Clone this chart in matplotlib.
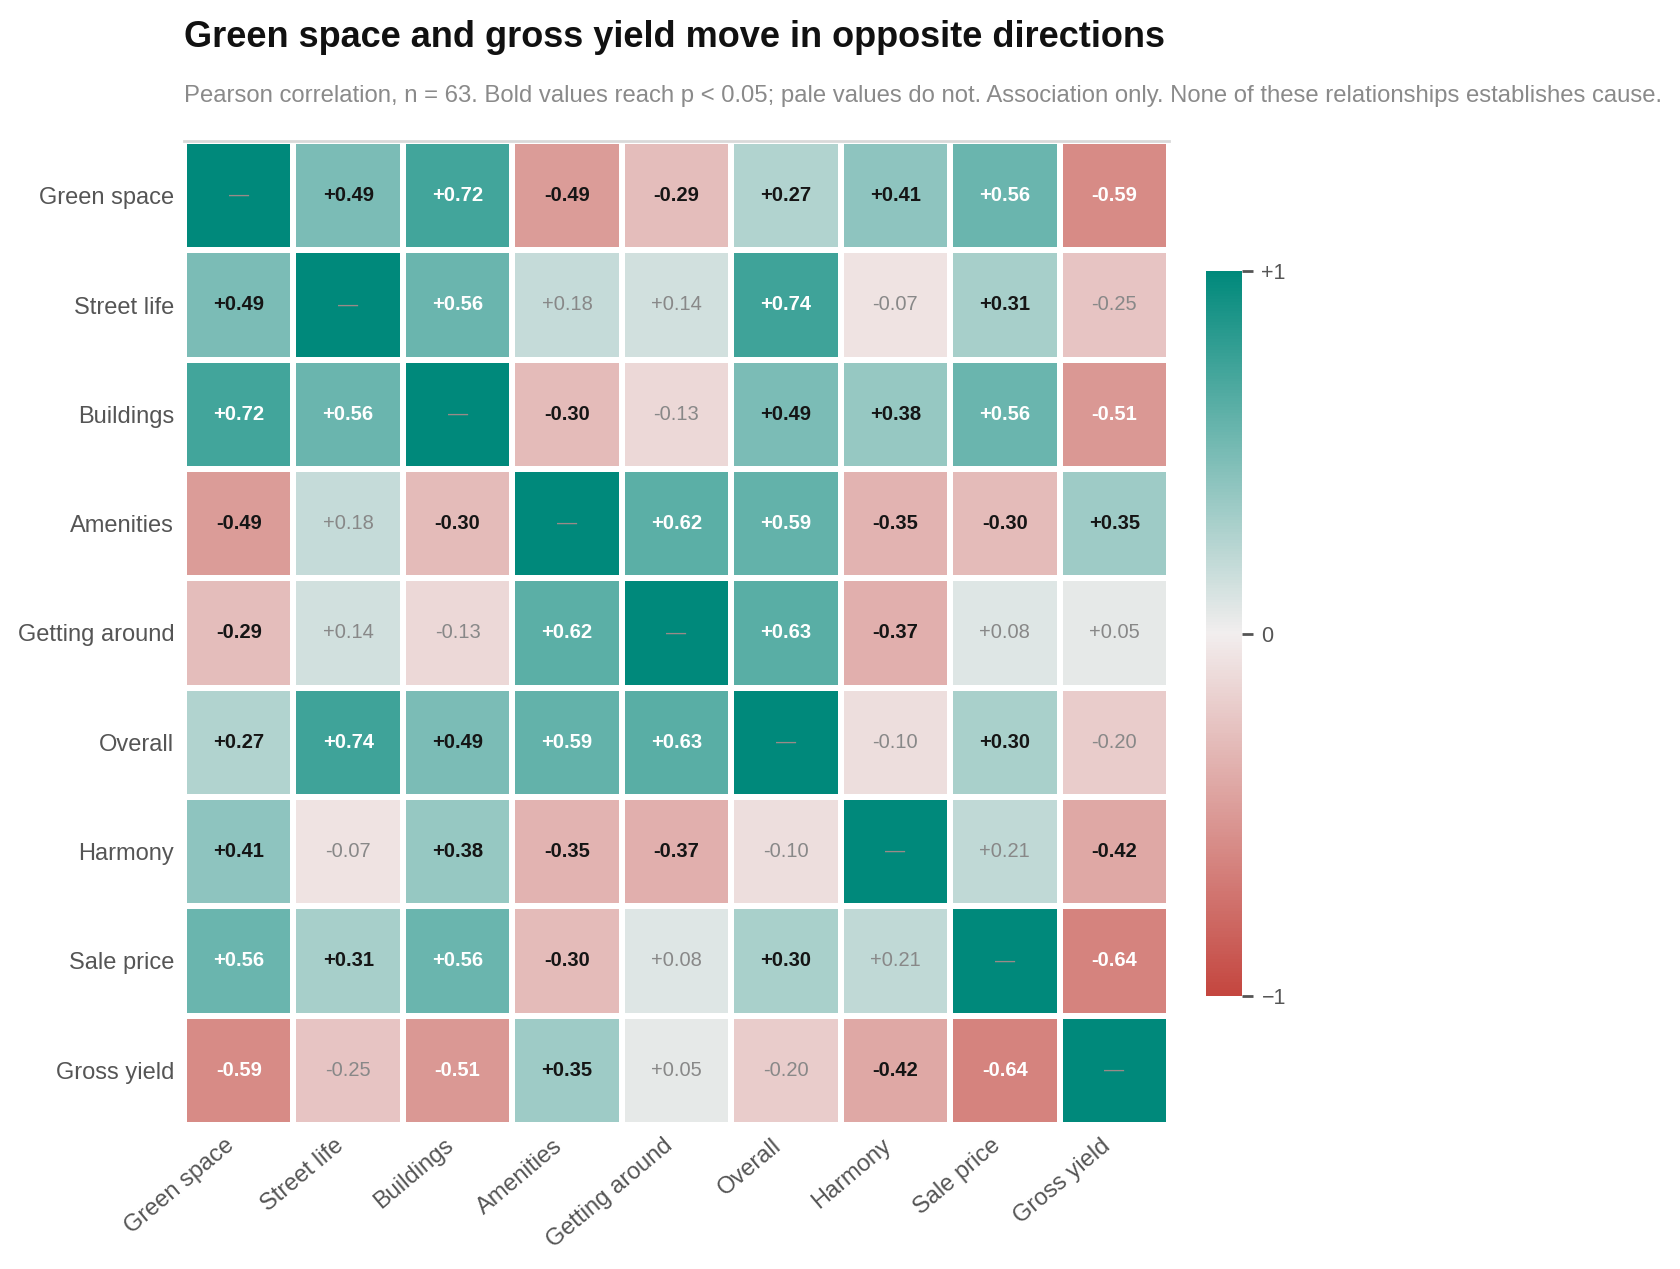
import numpy as np
import matplotlib
matplotlib.use("Agg")
import matplotlib.pyplot as plt
from matplotlib.colors import LinearSegmentedColormap

plt.rcParams['font.family'] = ['Liberation Sans', 'DejaVu Sans']

labels = ["Green space", "Street life", "Buildings", "Amenities", "Getting around",
          "Overall", "Harmony", "Sale price", "Gross yield"]

r_green_space    = [1.00, 0.49, 0.72, -0.49, -0.29, 0.27, 0.41, 0.56, -0.59]
r_street_life    = [0.49, 1.00, 0.56, 0.18, 0.14, 0.74, -0.07, 0.31, -0.25]
r_buildings      = [0.72, 0.56, 1.00, -0.30, -0.13, 0.49, 0.38, 0.56, -0.51]
r_amenities      = [-0.49, 0.18, -0.30, 1.00, 0.62, 0.59, -0.35, -0.30, 0.35]
r_getting_around = [-0.29, 0.14, -0.13, 0.62, 1.00, 0.63, -0.37, 0.08, 0.05]
r_overall        = [0.27, 0.74, 0.49, 0.59, 0.63, 1.00, -0.10, 0.30, -0.20]
r_harmony        = [0.41, -0.07, 0.38, -0.35, -0.37, -0.10, 1.00, 0.21, -0.42]
r_sale_price     = [0.56, 0.31, 0.56, -0.30, 0.08, 0.30, 0.21, 1.00, -0.64]
r_gross_yield    = [-0.59, -0.25, -0.51, 0.35, 0.05, -0.20, -0.42, -0.64, 1.00]

# p < 0.05 flags (n = 63)
sig_green_space    = [0, 1, 1, 1, 1, 1, 1, 1, 1]
sig_street_life    = [1, 0, 1, 0, 0, 1, 0, 1, 0]
sig_buildings      = [1, 1, 0, 1, 0, 1, 1, 1, 1]
sig_amenities      = [1, 0, 1, 0, 1, 1, 1, 1, 1]
sig_getting_around = [1, 0, 0, 1, 0, 1, 1, 0, 0]
sig_overall        = [1, 1, 1, 1, 1, 0, 0, 1, 0]
sig_harmony        = [1, 0, 1, 1, 1, 0, 0, 0, 1]
sig_sale_price     = [1, 1, 1, 1, 0, 1, 0, 0, 1]
sig_gross_yield    = [1, 0, 1, 1, 0, 0, 1, 1, 0]

R = np.array([r_green_space, r_street_life, r_buildings, r_amenities, r_getting_around,
              r_overall, r_harmony, r_sale_price, r_gross_yield])
S = np.array([sig_green_space, sig_street_life, sig_buildings, sig_amenities,
              sig_getting_around, sig_overall, sig_harmony, sig_sale_price, sig_gross_yield])

cmap = LinearSegmentedColormap.from_list("rt", ["#c4463f", "#f2eeee", "#00897b"])

W, H = 1681, 1269
fig = plt.figure(figsize=(W / 100, H / 100), dpi=100)

ax = fig.add_axes([184 / W, 1 - 1125 / H, 985 / W, 984 / H])
n = len(labels)
mesh = ax.pcolormesh(np.arange(n + 1), np.arange(n + 1), R, cmap=cmap, vmin=-1, vmax=1,
                     edgecolors="white", linewidth=4.3)
ax.set_xlim(0, n)
ax.set_ylim(n, 0)
ax.set_xticks(np.arange(n) + 0.5)
ax.set_yticks(np.arange(n) + 0.5)
ax.set_xticklabels(labels, rotation=40, ha="right", fontsize=17, color="#555555")
ax.set_yticklabels(labels, fontsize=17, color="#555555")
ax.tick_params(axis="y", length=0, pad=7)
ax.tick_params(axis="x", length=0, pad=7)
for s in ["left", "right", "bottom"]:
    ax.spines[s].set_visible(False)
ax.spines["top"].set_color("#d9d9d9")
ax.spines["top"].set_linewidth(2)

for i in range(n):
    for j in range(n):
        v = R[i, j]
        if i == j:
            ax.text(j + 0.5, i + 0.5, "—", ha="center", va="center",
                    fontsize=14.5, color="#9a8a88")
            continue
        txt = f"{v:+.2f}"
        if S[i, j]:
            col = "white" if abs(v) >= 0.5 else "#151515"
            ax.text(j + 0.5, i + 0.5, txt, ha="center", va="center",
                    fontsize=14.5, fontweight="bold", color=col)
        else:
            ax.text(j + 0.5, i + 0.5, txt, ha="center", va="center",
                    fontsize=14.5, color="#888888")

cax = fig.add_axes([1206 / W, 1 - 996 / H, 36 / W, 725 / H])
cb = fig.colorbar(mesh, cax=cax, ticks=[-1, 0, 1])
cb.outline.set_visible(False)
cb.ax.set_yticklabels(["\u22121", "0", "+1"])
cb.ax.tick_params(length=8, width=2, color="#555555", labelcolor="#555555",
                  labelsize=15.5, pad=6)

fig.text(184 / W, 1 - 47 / H, "Green space and gross yield move in opposite directions",
         fontsize=26, fontweight="bold", color="#111111", ha="left", va="baseline")
fig.text(184 / W, 1 - 102 / H,
         "Pearson correlation, n = 63. Bold values reach p < 0.05; pale values do not. "
         "Association only. None of these relationships establishes cause.",
         fontsize=17.2, color="#8a8a8a", ha="left", va="baseline")

fig.savefig("out.png", dpi=100)
